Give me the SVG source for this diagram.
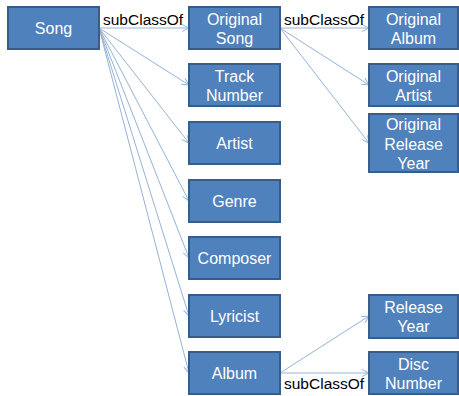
<svg xmlns="http://www.w3.org/2000/svg" width="459" height="396" viewBox="0 0 459 396">
<style>
.box{fill:#4F81BD;stroke:#385D8A;stroke-width:2}
.nt{fill:#fff;font-family:"Liberation Sans",Arial,sans-serif;font-size:16px;text-anchor:middle}
.lbl{fill:#000;font-family:"Liberation Sans",Arial,sans-serif;font-size:15.5px}
.c{stroke:#95B3D7;stroke-width:1;fill:none;marker-end:url(#ah)}
</style>
<defs>
<marker id="ah" viewBox="0 0 8 8" refX="7.5" refY="4" markerWidth="8" markerHeight="8" markerUnits="userSpaceOnUse" orient="auto">
<path d="M0.5,0.5 L7.5,4 L0.5,7.5" fill="none" stroke="#95B3D7" stroke-width="1"/>
</marker>
</defs>
<g id="connectors">
<line class="c" x1="99" y1="28" x2="189" y2="28"/>
<line class="c" x1="99" y1="28" x2="189" y2="85"/>
<line class="c" x1="99" y1="28" x2="189" y2="143"/>
<line class="c" x1="99" y1="28" x2="189" y2="201"/>
<line class="c" x1="99" y1="28" x2="189" y2="258"/>
<line class="c" x1="99" y1="28" x2="189" y2="316"/>
<line class="c" x1="99" y1="28" x2="189" y2="373"/>
<line class="c" x1="280" y1="28" x2="369" y2="28"/>
<line class="c" x1="280" y1="28" x2="369" y2="85"/>
<line class="c" x1="280" y1="28" x2="369" y2="143"/>
<line class="c" x1="280" y1="373" x2="369" y2="316"/>
<line class="c" x1="280" y1="373" x2="369" y2="373"/>
<text class="lbl" x="103" y="25">subClassOf</text>
<text class="lbl" x="284" y="25">subClassOf</text>
<text class="lbl" x="284" y="389">subClassOf</text>
</g>
<g id="song"><rect class="box" x="8" y="7" width="91" height="42"/><text class="nt" x="53.5" y="34">Song</text></g>
<g id="original-song"><rect class="box" x="189" y="7" width="91" height="42"/><text class="nt" x="234.5" y="24.5">Original</text><text class="nt" x="234.5" y="44">Song</text></g>
<g id="track-number"><rect class="box" x="189" y="64" width="91" height="42"/><text class="nt" x="234.5" y="81.5">Track</text><text class="nt" x="234.5" y="101">Number</text></g>
<g id="artist"><rect class="box" x="189" y="122" width="91" height="42"/><text class="nt" x="234.5" y="149">Artist</text></g>
<g id="genre"><rect class="box" x="189" y="180" width="91" height="42"/><text class="nt" x="234.5" y="207">Genre</text></g>
<g id="composer"><rect class="box" x="189" y="237" width="91" height="42"/><text class="nt" x="234.5" y="264">Composer</text></g>
<g id="lyricist"><rect class="box" x="189" y="295" width="91" height="42"/><text class="nt" x="234.5" y="322">Lyricist</text></g>
<g id="album"><rect class="box" x="189" y="352" width="91" height="42"/><text class="nt" x="234.5" y="379">Album</text></g>
<g id="original-album"><rect class="box" x="369" y="7" width="89" height="42"/><text class="nt" x="413.5" y="24.5">Original</text><text class="nt" x="413.5" y="44">Album</text></g>
<g id="original-artist"><rect class="box" x="369" y="64" width="89" height="42"/><text class="nt" x="413.5" y="81.5">Original</text><text class="nt" x="413.5" y="101">Artist</text></g>
<g id="original-release-year"><rect class="box" x="369" y="114" width="89" height="58"/><text class="nt" x="413.5" y="130">Original</text><text class="nt" x="413.5" y="149.5">Release</text><text class="nt" x="413.5" y="169">Year</text></g>
<g id="release-year"><rect class="box" x="369" y="295" width="89" height="43"/><text class="nt" x="413.5" y="312.5">Release</text><text class="nt" x="413.5" y="332">Year</text></g>
<g id="disc-number"><rect class="box" x="369" y="352" width="89" height="42"/><text class="nt" x="413.5" y="369.5">Disc</text><text class="nt" x="413.5" y="389">Number</text></g>
</svg>
